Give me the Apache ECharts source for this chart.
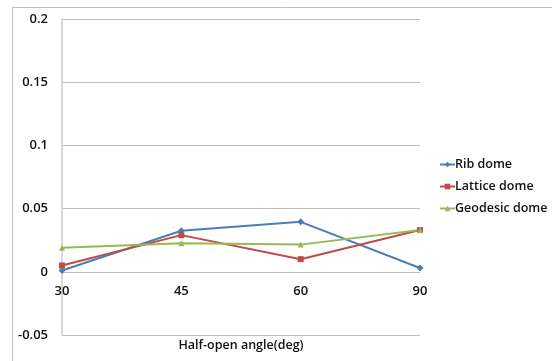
<!DOCTYPE html>
<html>
<head>
<meta charset="utf-8">
<script src="https://cdn.jsdelivr.net/npm/echarts@6/dist/echarts.min.js"></script>
<style>
  html, body { margin: 0; padding: 0; background: #fff; }
  #chart { width: 552px; height: 361px; }
</style>
</head>
<body>
<div id="chart"></div>
<script>
// Half-open angle categories (deg)
const angles = ['30', '45', '60', '90'];

// Response values per dome type
const ribDome = [0.001, 0.0325, 0.0395, 0.003];
const latticeDome = [0.005, 0.029, 0.010, 0.033];
const geodesicDome = [0.019, 0.0225, 0.0215, 0.033];

const seriesNames = ['Rib dome', 'Lattice dome', 'Geodesic dome'];
const seriesColors = ['#4A7EBB', '#BE4B48', '#98B954'];
const seriesSymbols = ['diamond', 'rect', 'triangle'];

const font = 'Open Sans, Liberation Sans, sans-serif';
const textColor = '#111111';

const chart = echarts.init(document.getElementById('chart'), null, { renderer: 'canvas' });

const series = [ribDome, latticeDome, geodesicDome].map((data, i) => ({
  name: seriesNames[i],
  type: 'line',
  data: data,
  symbol: seriesSymbols[i],
  symbolSize: seriesSymbols[i] === 'diamond' ? 7 : 6,
  showAllSymbol: true,
  lineStyle: { color: seriesColors[i], width: 2 },
  itemStyle: { color: seriesColors[i] },
  animation: false
}));

chart.setOption({
  animation: false,
  backgroundColor: '#ffffff',
  graphic: [{
    type: 'rect',
    shape: { x: 12.5, y: 7.5, width: 600, height: 400 },
    style: { fill: 'none', stroke: '#BFBFBF', lineWidth: 1 },
    silent: true
  }],
  grid: {
    left: 62, right: 132, top: 19, bottom: 26,
    containLabel: false,
    outerBoundsMode: 'none'
  },
  legend: {
    orient: 'vertical',
    left: 434,
    top: 153,
    itemWidth: 15,
    itemHeight: 7,
    itemGap: 9,
    textStyle: { fontFamily: font, fontSize: 12.5, fontWeight: 600, color: textColor, padding: [0, 0, 0, -5] },
    data: seriesNames
  },
  xAxis: {
    type: 'category',
    data: angles,
    boundaryGap: false,
    axisLine: { onZero: true, lineStyle: { color: '#BFBFBF', width: 1 } },
    axisTick: { show: false },
    axisLabel: { fontFamily: font, fontSize: 13, fontWeight: 600, color: textColor, margin: -50 },
    name: 'Half-open angle(deg)',
    nameLocation: 'middle',
    nameGap: 4,
    nameTextStyle: { fontFamily: font, fontSize: 12.5, fontWeight: 600, color: textColor, verticalAlign: 'top' },
    splitLine: { show: false }
  },
  yAxis: {
    type: 'value',
    min: -0.05,
    max: 0.2,
    interval: 0.05,
    axisLine: { show: true, onZero: false, lineStyle: { color: '#D9D9D9', width: 2 } },
    axisTick: { show: false },
    axisLabel: {
      fontFamily: font, fontSize: 13, fontWeight: 600, color: textColor, margin: 14,
      formatter: v => String(parseFloat(v.toFixed(2)))
    },
    splitLine: { show: true, lineStyle: { color: '#BFBFBF', width: 1 } }
  },
  series: series
});
</script>
</body>
</html>
